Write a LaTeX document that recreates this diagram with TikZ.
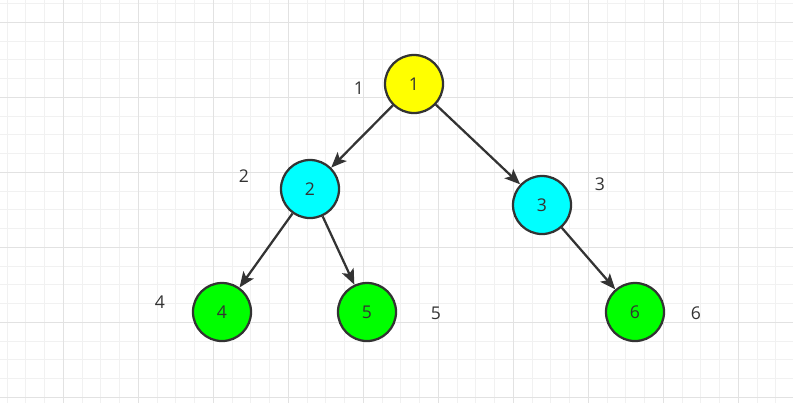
\documentclass[tikz,border=0pt]{standalone}
\usepackage{fontspec}
\setmainfont{Open Sans}
\usetikzlibrary{arrows.meta}

\definecolor{nodeyellow}{HTML}{FFFF00}
\definecolor{nodecyan}{HTML}{00FFFF}
\definecolor{nodegreen}{HTML}{00FF00}
\definecolor{edgegray}{HTML}{333333}
\definecolor{gridminor}{HTML}{F1F1F1}
\definecolor{gridmajor}{HTML}{E2E2E2}

\begin{document}
\begin{tikzpicture}[x=0.025cm, y=-0.025cm,
  every node/.style={font=\fontsize{12.5}{15}\selectfont, text=edgegray},
  vertex/.style={circle, draw=edgegray, line width=1.6pt, minimum size=1.45cm, inner sep=0pt},
  link/.style={draw=edgegray, line width=1.6pt, -{Stealth[length=11pt,width=9pt,inset=2.5pt]}}]
% background grid
\fill[white] (0,0) rectangle (793,403);
\useasboundingbox (0,0) rectangle (793,403);
\foreach \x in {0,...,41}
  \draw[gridminor, line width=0.7pt] ({7.05+18.75*\x},0) -- ++(0,403);
\foreach \y in {0,...,21}
  \draw[gridminor, line width=0.7pt] (0,{3.55+18.75*\y}) -- ++(793,0);
\foreach \x in {0,...,9}
  \draw[gridmajor, line width=0.7pt] ({63.3+75*\x},0) -- ++(0,403);
\foreach \y in {0,...,5}
  \draw[gridmajor, line width=0.7pt] (0,{22.3+75*\y}) -- ++(793,0);

% tree nodes
\node[vertex, fill=nodeyellow] (n1) at (414,84) {1};
\node[vertex, fill=nodecyan] (n2) at (310,189) {2};
\node[vertex, fill=nodecyan] (n3) at (542,205) {3};
\node[vertex, fill=nodegreen] (n4) at (222,312) {4};
\node[vertex, fill=nodegreen] (n5) at (367,312) {5};
\node[vertex, fill=nodegreen] (n6) at (635,312) {6};

% order labels
\node (l1) at (359,88) {1};
\node (l2) at (244,176) {2};
\node (l3) at (600,184) {3};
\node (l4) at (160,302) {4};
\node (l5) at (436,313) {5};
\node (l6) at (696,313) {6};

\draw[link] (n1) -- (n2);
\draw[link] (n1) -- (n3);
\draw[link] (n2) -- (n4);
\draw[link] (n2) -- (n5);
\draw[link] (n3) -- (n6);
\end{tikzpicture}
\end{document}
